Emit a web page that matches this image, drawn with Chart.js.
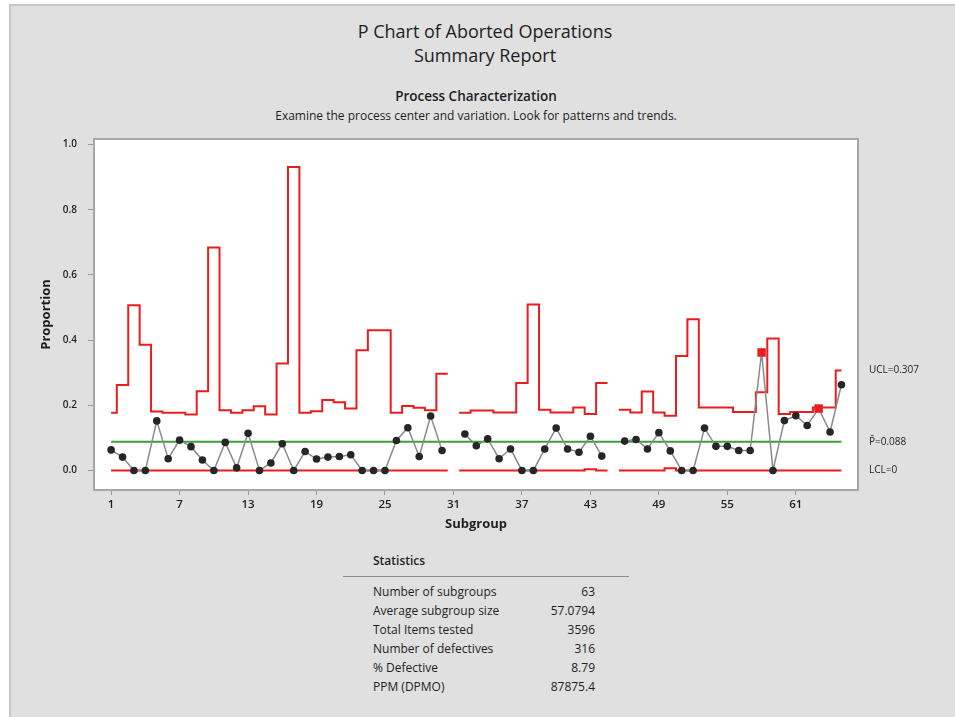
<!DOCTYPE html>
<html>
<head>
<meta charset="utf-8">
<title>P Chart of Aborted Operations</title>
<script src="https://cdn.jsdelivr.net/npm/chart.js@4.4.1/dist/chart.umd.min.js"></script>
<style>
  html, body { margin: 0; padding: 0; background: #fff; }
  body {
    width: 955px; height: 717px; position: relative; overflow: hidden;
    font-family: "Open Sans", "Noto Sans", sans-serif; color: #1e1e1e;
  }
  .panel {
    position: absolute; left: 9px; top: 4px; right: 0; bottom: 0;
    background: #e0e0e0; border-left: 2px solid #c8c8c8; border-top: 2px solid #c8c8c8;
  }
  #chart { position: absolute; left: 0; top: 0; }
  .head { position: absolute; text-align: center; white-space: nowrap; }
  .title { left: 285px; width: 400px; top: 20px; font-size: 18px; line-height: 23.5px; }
  .section { left: 226px; width: 500px; top: 86px; line-height: 20px; }
  .section .name { font-size: 13.5px; font-weight: 600; }
  .section .hint { font-size: 12px; }
  .stats-title { position: absolute; left: 373px; top: 552px; font-size: 12px; font-weight: 600; line-height: 18px; }
  .rule { position: absolute; left: 343px; top: 576px; width: 286px; height: 1px; background: #8c8c8c; }
  #stats-rows { position: absolute; left: 373px; top: 582px; width: 222px; font-size: 12px; line-height: 19.1px; }
  .row { display: flex; justify-content: space-between; }
</style>
</head>
<body>
<div class="panel"></div>
<div class="head title">P Chart of Aborted Operations<br>Summary Report</div>
<div class="head section">
  <div class="name">Process Characterization</div>
  <div class="hint">Examine the process center and variation. Look for patterns and trends.</div>
</div>
<canvas id="chart" width="955" height="540"></canvas>
<div class="stats-title">Statistics</div>
<div class="rule"></div>
<div id="stats-rows"></div>
<script>
const subgroups = [
  1, 2, 3, 4, 5, 6, 7, 8, 9, 10, 11, 12, 13, 14, 15, 16, 17, 18, 19, 20,
  21, 22, 23, 24, 25, 26, 27, 28, 29, 30, 31, 32, 33, 34, 35, 36, 37, 38, 39, 40,
  41, 42, 43, 44, 45, 46, 47, 48, 49, 50, 51, 52, 53, 54, 55, 56, 57, 58, 59, 60,
  61, 62, 63, 64, 65
];

// null = no subgroup there (31 and 45 are missing)
const proportions = [
  0.063, 0.041, 0, 0, 0.152, 0.036, 0.093, 0.073, 0.032, 0,
  0.086, 0.008, 0.114, 0, 0.023, 0.082, 0, 0.058, 0.035, 0.041,
  0.043, 0.048, 0, 0, 0, 0.092, 0.131, 0.043, 0.167, 0.061,
  null, 0.112, 0.076, 0.097, 0.036, 0.066, 0, 0, 0.066, 0.130,
  0.066, 0.056, 0.105, 0.044, null, 0.090, 0.095, 0.066, 0.116, 0.060,
  0, 0, 0.130, 0.074, 0.074, 0.061, 0.061, 0.362, 0, 0.153,
  0.168, 0.138, 0.190, 0.118, 0.263
];

const ucl = [
  0.177, 0.262, 0.507, 0.386, 0.181, 0.177, 0.177, 0.172, 0.243, 0.684,
  0.185, 0.177, 0.185, 0.197, 0.172, 0.328, 0.931, 0.177, 0.182, 0.216,
  0.209, 0.190, 0.369, 0.430, 0.430, 0.177, 0.198, 0.192, 0.185, 0.297,
  null, 0.177, 0.184, 0.184, 0.178, 0.178, 0.268, 0.509, 0.186, 0.178,
  0.178, 0.193, 0.173, 0.268, null, 0.186, 0.178, 0.242, 0.178, 0.168,
  0.351, 0.464, 0.193, 0.193, 0.193, 0.179, 0.179, 0.240, 0.405, 0.173,
  0.179, 0.179, 0.193, 0.193, 0.307
];

const lcl = [
  0, 0, 0, 0, 0, 0, 0, 0, 0, 0,
  0, 0, 0, 0, 0, 0, 0, 0, 0, 0,
  0, 0, 0, 0, 0, 0, 0, 0, 0, 0,
  null, 0, 0, 0, 0, 0, 0, 0, 0, 0,
  0, 0, 0.004, 0, null, 0, 0, 0, 0, 0.007,
  0, 0, 0, 0, 0, 0, 0, 0, 0, 0,
  0, 0, 0, 0, 0
];

const centerLine = 0.088;
const flagged = [58, 63];

const xTicks = [1, 7, 13, 19, 25, 31, 37, 43, 49, 55, 61];
const yTicks = [0, 0.2, 0.4, 0.6, 0.8, 1.0];

const statLabels = [
  'Number of subgroups', 'Average subgroup size', 'Total Items tested',
  'Number of defectives', '% Defective', 'PPM (DPMO)'
];
const statValues = ['63', '57.0794', '3596', '316', '8.79', '87875.4'];

const red = '#e81e1e';
const green = '#38a038';
const ink = '#1e1e1e';

document.getElementById('stats-rows').innerHTML = statLabels
  .map((label, i) => `<div class="row"><span>${label}</span><span>${statValues[i]}</span></div>`)
  .join('');

// each limit is held over its subgroup, from i-0.5 to i+0.5
function stepPoints(values) {
  const pts = [];
  values.forEach((v, idx) => {
    const s = subgroups[idx];
    if (v === null) {
      pts.push({ x: s, y: null });
      return;
    }
    const first = idx === 0;
    const last = idx === values.length - 1;
    pts.push({ x: first ? s : s - 0.5, y: v }, { x: last ? s : s + 0.5, y: v });
  });
  return pts;
}

const isFlagged = (ctx) => flagged.includes(subgroups[ctx.dataIndex]);

const framePlugin = {
  id: 'frame',
  beforeDraw(chart) {
    const { ctx, chartArea: a } = chart;
    ctx.save();
    ctx.fillStyle = '#fff';
    ctx.fillRect(a.left, a.top, a.right - a.left, a.bottom - a.top);
    ctx.restore();
  },
  afterDraw(chart) {
    const { ctx, chartArea: a, scales } = chart;
    ctx.save();
    ctx.strokeStyle = '#a8a8a8';
    ctx.lineWidth = 2;
    ctx.strokeRect(a.left, a.top, a.right - a.left, a.bottom - a.top);

    ctx.fillStyle = ink;
    ctx.font = '10px "Open Sans", "Noto Sans", sans-serif';
    ctx.textBaseline = 'middle';
    const lx = a.right + 11;
    ctx.fillText('UCL=' + ucl[ucl.length - 1], lx, scales.y.getPixelForValue(ucl[ucl.length - 1]));
    ctx.fillText('P\u0304=' + centerLine, lx, scales.y.getPixelForValue(centerLine));
    ctx.fillText('LCL=' + lcl[lcl.length - 1], lx, scales.y.getPixelForValue(lcl[lcl.length - 1]));
    ctx.restore();
  }
};

Chart.defaults.font.family = '"Open Sans", "Noto Sans", sans-serif';
Chart.defaults.color = ink;

new Chart(document.getElementById('chart'), {
  type: 'line',
  data: {
    datasets: [
      {
        label: 'Proportion',
        data: subgroups.map((s, i) => ({ x: s, y: proportions[i] })),
        borderColor: '#8a8a8a',
        borderWidth: 1.5,
        pointStyle: (ctx) => (isFlagged(ctx) ? 'rect' : 'circle'),
        pointRadius: (ctx) => (isFlagged(ctx) ? 6 : 3.8),
        pointBackgroundColor: (ctx) => (isFlagged(ctx) ? red : '#262626'),
        pointBorderColor: (ctx) => (isFlagged(ctx) ? red : '#262626'),
        pointBorderWidth: 0,
        tension: 0,
        spanGaps: false
      },
      {
        label: 'UCL',
        data: stepPoints(ucl),
        borderColor: red,
        borderWidth: 2,
        pointRadius: 0,
        spanGaps: false
      },
      {
        label: 'Center',
        data: [
          { x: subgroups[0], y: centerLine },
          { x: subgroups[subgroups.length - 1], y: centerLine }
        ],
        borderColor: green,
        borderWidth: 2,
        pointRadius: 0
      },
      {
        label: 'LCL',
        data: stepPoints(lcl),
        borderColor: red,
        borderWidth: 2,
        pointRadius: 0,
        spanGaps: false
      }
    ]
  },
  options: {
    responsive: false,
    animation: false,
    devicePixelRatio: 1,
    layout: { padding: { top: 139, right: 97, bottom: 0, left: 0 } },
    plugins: {
      legend: { display: false },
      tooltip: { enabled: false }
    },
    scales: {
      x: {
        type: 'linear',
        bounds: 'data',
        min: -0.5,
        max: 66.45,
        afterBuildTicks: (scale) => {
          scale.ticks = xTicks.map((v) => ({ value: v }));
        },
        afterFit: (scale) => {
          scale.height = 50;
        },
        border: { display: false },
        grid: { drawOnChartArea: false, drawTicks: true, tickLength: 5, color: '#9a9a9a' },
        ticks: { autoSkip: false, maxRotation: 0, padding: 3, font: { size: 11.5, weight: '600' }, color: ink },
        title: {
          display: true,
          text: 'Subgroup',
          font: { size: 13, weight: 'bold' },
          color: ink,
          padding: { top: 0, bottom: 8 }
        }
      },
      y: {
        type: 'linear',
        bounds: 'data',
        min: -0.06,
        max: 1.017,
        afterBuildTicks: (scale) => {
          scale.ticks = yTicks.map((v) => ({ value: v }));
        },
        afterFit: (scale) => {
          scale.width = 94;
        },
        border: { display: false },
        grid: { drawOnChartArea: false, drawTicks: true, tickLength: 6, color: '#9a9a9a' },
        ticks: {
          padding: 11,
          font: { size: 10, weight: '600' },
          color: ink,
          callback: (v) => v.toFixed(1)
        },
        title: {
          display: true,
          text: 'Proportion',
          font: { size: 13, weight: 'bold' },
          color: ink,
          padding: { top: 38, bottom: 0 }
        }
      }
    }
  },
  plugins: [framePlugin]
});
</script>
</body>
</html>
